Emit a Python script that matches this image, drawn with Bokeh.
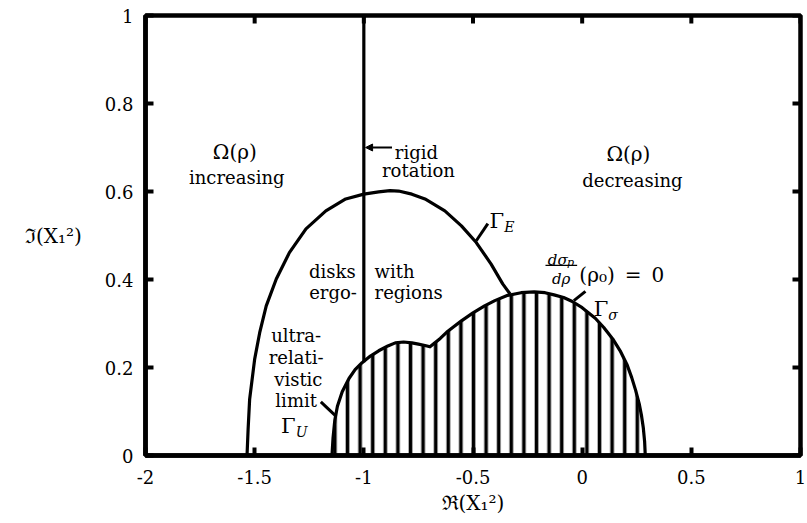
import math
from bokeh.plotting import figure
from bokeh.models import Range1d, FixedTicker, Label, Arrow, NormalHead
from bokeh.embed import file_html
from bokeh.resources import INLINE

# ---------------- data ----------------
x_ticks = [-2, -1.5, -1, -0.5, 0, 0.5, 1]
x_tick_labels = ["-2", "-1.5", "-1", "-0.5", "0", "0.5", "1"]
y_ticks = [0, 0.2, 0.4, 0.6, 0.8, 1]
y_tick_labels = ["0", "0.2", "0.4", "0.6", "0.8", "1"]

# ergo-region boundary Gamma_E
gamma_e_x = [-1.535, -1.530, -1.523, -1.500, -1.477, -1.447, -1.401, -1.341, -1.265,
             -1.174, -1.083, -1.000, -0.932, -0.880, -0.841, -0.780, -0.720, -0.629,
             -0.553, -0.485, -0.417, -0.364, -0.330]
gamma_e_y = [0.000, 0.060, 0.128, 0.219, 0.279, 0.340, 0.401, 0.461, 0.515,
             0.556, 0.583, 0.594, 0.599, 0.602, 0.601, 0.594, 0.583, 0.556,
             0.522, 0.484, 0.435, 0.390, 0.367]

# boundary Gamma_sigma (hatched region, d sigma_p / d rho (rho_0) = 0)
gamma_s_x = [-1.146, -1.141, -1.133, -1.121, -1.099, -1.068, -1.040, -1.008, -0.970,
             -0.932, -0.890, -0.856, -0.818, -0.780, -0.750, -0.720, -0.697, -0.680,
             -0.650, -0.621, -0.590, -0.553, -0.500, -0.447, -0.400, -0.341, -0.280,
             -0.220, -0.170, -0.129, -0.085, -0.045, 0.000, 0.060, 0.099, 0.140,
             0.174, 0.205, 0.227, 0.245, 0.262, 0.272, 0.280, 0.286, 0.289]
gamma_s_y = [0.000, 0.040, 0.080, 0.112, 0.145, 0.175, 0.195, 0.211, 0.226,
             0.238, 0.249, 0.256, 0.258, 0.256, 0.253, 0.250, 0.247, 0.254,
             0.266, 0.280, 0.292, 0.306, 0.324, 0.340, 0.352, 0.364, 0.370,
             0.372, 0.370, 0.365, 0.359, 0.350, 0.336, 0.312, 0.291, 0.265,
             0.238, 0.207, 0.177, 0.148, 0.116, 0.090, 0.063, 0.032, 0.000]

# rigid rotation line
rigid_x = [-1.0, -1.0]
rigid_y = [0.212, 1.0]

# text annotations
note_texts = ["Ω(ρ)", "increasing", "Ω(ρ)", "decreasing", "rigid", "rotation",
              "disks", "ergo-", "with", "regions",
              "ultra-", "relati-", "vistic", "limit"]
note_x = [-1.591, -1.582, 0.212, 0.230, -0.759, -0.750,
          -1.144, -1.141, -0.951, -0.951,
          -1.310, -1.310, -1.300, -1.310]
note_y = [0.689, 0.631, 0.685, 0.626, 0.689, 0.647,
          0.418, 0.370, 0.418, 0.370,
          0.272, 0.222, 0.172, 0.124]
note_align = ["center", "center", "center", "center", "center", "center",
              "center", "center", "left", "left",
              "center", "center", "center", "center"]
note_size = ["20px", "18px", "20px", "18px", "18px", "18px",
             "18px", "18px", "18px", "18px",
             "18px", "18px", "18px", "18px"]

# curve names: Gamma + italic subscript
gamma_names = ["E", "σ", "U"]
gamma_x = [-0.424, 0.053, -1.379]
gamma_y = [0.534, 0.333, 0.067]
gamma_sub_x = [-0.357, 0.120, -1.312]
gamma_sub_y = [0.520, 0.320, 0.054]

# pointer strokes from names to curves
ptr_x0 = [-0.432, 0.015, -1.197]
ptr_y0 = [0.527, 0.373, 0.122]
ptr_x1 = [-0.485, -0.038, -1.129]
ptr_y1 = [0.488, 0.352, 0.090]

FONT = "DejaVu Serif"
X0, X1 = x_ticks[0], x_ticks[-1]
Y0, Y1 = y_ticks[0], y_ticks[-1]

p = figure(width=807, height=523, x_range=Range1d(X0, X1), y_range=Range1d(Y0, Y1),
           output_backend="svg", toolbar_location=None,
           min_border_left=145, min_border_right=7, min_border_top=15,
           min_border_bottom=68,
           background_fill_color="white", border_fill_color="white")
p.outline_line_color = "black"
p.outline_line_width = 4.5
p.xgrid.visible = False
p.ygrid.visible = False

bottom_axis = p.below[0]
left_axis = p.left[0]

for ax, ticks, labels in ((bottom_axis, x_ticks, x_tick_labels),
                          (left_axis, y_ticks, y_tick_labels)):
    ax.ticker = FixedTicker(ticks=ticks)
    ax.major_label_overrides = {t: l for t, l in zip(ticks, labels)}
    ax.major_tick_in = 8
    ax.major_tick_out = 0
    ax.minor_tick_in = 0
    ax.minor_tick_out = 0
    ax.major_tick_line_width = 4
    ax.major_tick_line_color = "black"
    ax.axis_line_width = 4.5
    ax.axis_line_color = "black"
    ax.major_label_text_font = FONT
    ax.major_label_text_font_size = "18px"
    ax.major_label_text_color = "black"
    ax.axis_label_text_font = FONT
    ax.axis_label_text_font_size = "20px"
    ax.axis_label_text_font_style = "normal"
    ax.axis_label_text_color = "black"

bottom_axis.major_label_standoff = 14
left_axis.major_label_standoff = 12
bottom_axis.axis_label = "ℜ(X₁²)"
left_axis.axis_label = "ℑ(X₁²)"
bottom_axis.axis_label_standoff = 4
left_axis.axis_label_standoff = 20
try:
    left_axis.axis_label_orientation = "horizontal"
except Exception:
    pass

# mirrored inward ticks on the top and right borders (outer half is clipped)
p.scatter(x=x_ticks, y=[Y1] * len(x_ticks), marker="dash", size=16, angle=math.pi / 2,
          line_color="black", line_width=4)
p.scatter(x=[X1] * len(y_ticks), y=y_ticks, marker="dash", size=16,
          line_color="black", line_width=4)

# hatched region bounded by Gamma_sigma
p.patch(gamma_s_x, gamma_s_y, fill_color=None, line_color="black", line_width=3.2,
        line_join="round", hatch_pattern="vertical_line", hatch_scale=12.6,
        hatch_weight=3.6, hatch_color="black")
# Gamma_E
p.line(gamma_e_x, gamma_e_y, line_color="black", line_width=3.2, line_join="round")
# rigid rotation line
p.line(rigid_x, rigid_y, line_color="black", line_width=3.2)
# pointers
p.segment(x0=ptr_x0, y0=ptr_y0, x1=ptr_x1, y1=ptr_y1, line_color="black",
          line_width=3)

# arrow to rigid rotation line
p.add_layout(Arrow(x_start=-0.871, y_start=0.700, x_end=-0.992, y_end=0.700,
                   line_width=2, line_color="black",
                   end=NormalHead(size=7, fill_color="black", line_color="black")))

for t, x, y, a, s in zip(note_texts, note_x, note_y, note_align, note_size):
    p.add_layout(Label(x=x, y=y, text=t, text_align=a, text_baseline="alphabetic",
                       text_font=FONT, text_font_size=s, text_color="black"))

for name, gx, gy, sx, sy in zip(gamma_names, gamma_x, gamma_y, gamma_sub_x, gamma_sub_y):
    p.add_layout(Label(x=gx, y=gy, text="Γ", text_align="left",
                       text_baseline="alphabetic", text_font=FONT,
                       text_font_size="21px", text_color="black"))
    p.add_layout(Label(x=sx, y=sy, text=name, text_align="left",
                       text_baseline="alphabetic", text_font=FONT,
                       text_font_size="14px", text_font_style="italic",
                       text_color="black"))

# d sigma_p / d rho (rho_0) = 0
p.add_layout(Label(x=-0.112, y=0.445, text="dσ", text_align="center",
                   text_baseline="alphabetic", text_font=FONT, text_font_size="15px",
                   text_font_style="italic", text_color="black"))
p.add_layout(Label(x=-0.070, y=0.438, text="p", text_align="left",
                   text_baseline="alphabetic", text_font=FONT, text_font_size="11px",
                   text_font_style="italic", text_color="black"))
p.segment(x0=[-0.168], y0=[0.432], x1=[-0.023], y1=[0.432], line_color="black",
          line_width=1.3)
p.add_layout(Label(x=-0.096, y=0.402, text="dρ", text_align="center",
                   text_baseline="alphabetic", text_font=FONT, text_font_size="15px",
                   text_font_style="italic", text_color="black"))
p.add_layout(Label(x=-0.013, y=0.411, text="(ρ₀)\u2002=\u20020", text_align="left",
                   text_baseline="alphabetic", text_font=FONT, text_font_size="20px",
                   text_color="black"))

open("out.html", "w").write(file_html(p, INLINE))
